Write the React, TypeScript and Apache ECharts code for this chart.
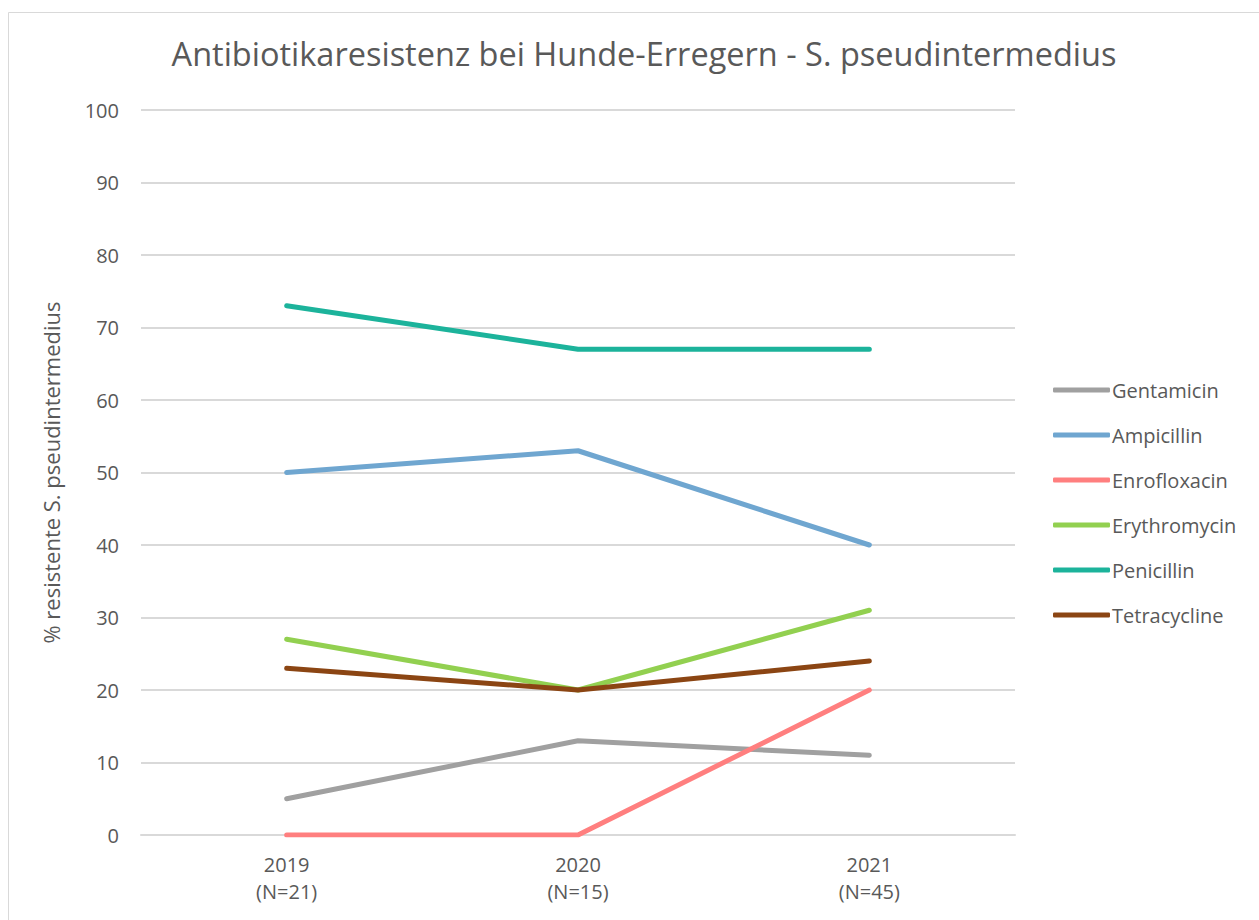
import React, { useEffect, useRef } from "react";
import * as echarts from "echarts";

const categories = ["2019\n(N=21)", "2020\n(N=15)", "2021\n(N=45)"];
const seriesNames = ["Gentamicin", "Ampicillin", "Enrofloxacin", "Erythromycin", "Penicillin", "Tetracycline"];
const gentamicin = [5, 13, 11];
const ampicillin = [50, 53, 40];
const enrofloxacin = [0, 0, 20];
const erythromycin = [27, 20, 31];
const penicillin = [73, 67, 67];
const tetracycline = [23, 20, 24];
const seriesColors = ["#A0A0A0", "#6FA6D0", "#FF7F7F", "#92D050", "#1CB39B", "#8B4513"];
const yTicks = { min: 0, max: 100, interval: 10 };

const FONT = "'Open Sans', 'Noto Sans', sans-serif";
const TXT = "#595959";

export default function App() {
  const ref = useRef<HTMLDivElement>(null);
  useEffect(() => {
    if (!ref.current) return;
    const chart = echarts.init(ref.current, undefined, { renderer: "svg" });
    const values = [gentamicin, ampicillin, enrofloxacin, erythromycin, penicillin, tetracycline];
    chart.setOption({
      animation: false,
      backgroundColor: "#ffffff",
      title: {
        text: "Antibiotikaresistenz bei Hunde-Erregern - S. pseudintermedius",
        left: 639,
        textAlign: "center",
        top: 32,
        textStyle: { fontFamily: FONT, fontSize: 32.5, fontWeight: "normal", color: TXT },
      },
      graphic: [
        {
          type: "rect",
          shape: { x: 8.5, y: 12.5, width: 1260, height: 930 },
          style: { fill: "none", stroke: "#d9d9d9", lineWidth: 1 },
          silent: true,
        },
      ],
      legend: {
        orient: "vertical",
        left: 1053,
        top: 380,
        padding: 0,
        icon: "roundRect",
        itemWidth: 57,
        itemHeight: 5,
        itemGap: 25,
        textStyle: { fontFamily: FONT, fontSize: 20, color: TXT, lineHeight: 20, padding: [0, 0, 0, -3] },
        data: seriesNames,
      },
      grid: { left: 141, right: 244, top: 110, bottom: 85 },
      xAxis: {
        type: "category",
        data: categories,
        boundaryGap: true,
        axisLine: { lineStyle: { color: "#d9d9d9", width: 2 } },
        axisTick: { show: false },
        axisLabel: { fontFamily: FONT, fontSize: 20, color: TXT, lineHeight: 27, margin: 16 },
      },
      yAxis: {
        type: "value",
        min: yTicks.min,
        max: yTicks.max,
        interval: yTicks.interval,
        name: "% resistente S. pseudintermedius",
        nameLocation: "middle",
        nameGap: 79,
        nameTextStyle: { fontFamily: FONT, fontSize: 22, color: TXT },
        axisLine: { show: false },
        axisTick: { show: false },
        axisLabel: { fontFamily: FONT, fontSize: 20, color: TXT, margin: 22 },
        splitLine: { lineStyle: { color: "#d9d9d9", width: 2 } },
      },
      series: seriesNames.map((name, i) => ({
        name,
        type: "line",
        data: values[i],
        symbol: "none",
        color: seriesColors[i],
        lineStyle: { color: seriesColors[i], width: 5, cap: "round", join: "round" },
      })),
    });
    return () => chart.dispose();
  }, []);
  return <div ref={ref} style={{ position: "absolute", left: 0, top: 0, width: 1259, height: 920 }} />;
}
